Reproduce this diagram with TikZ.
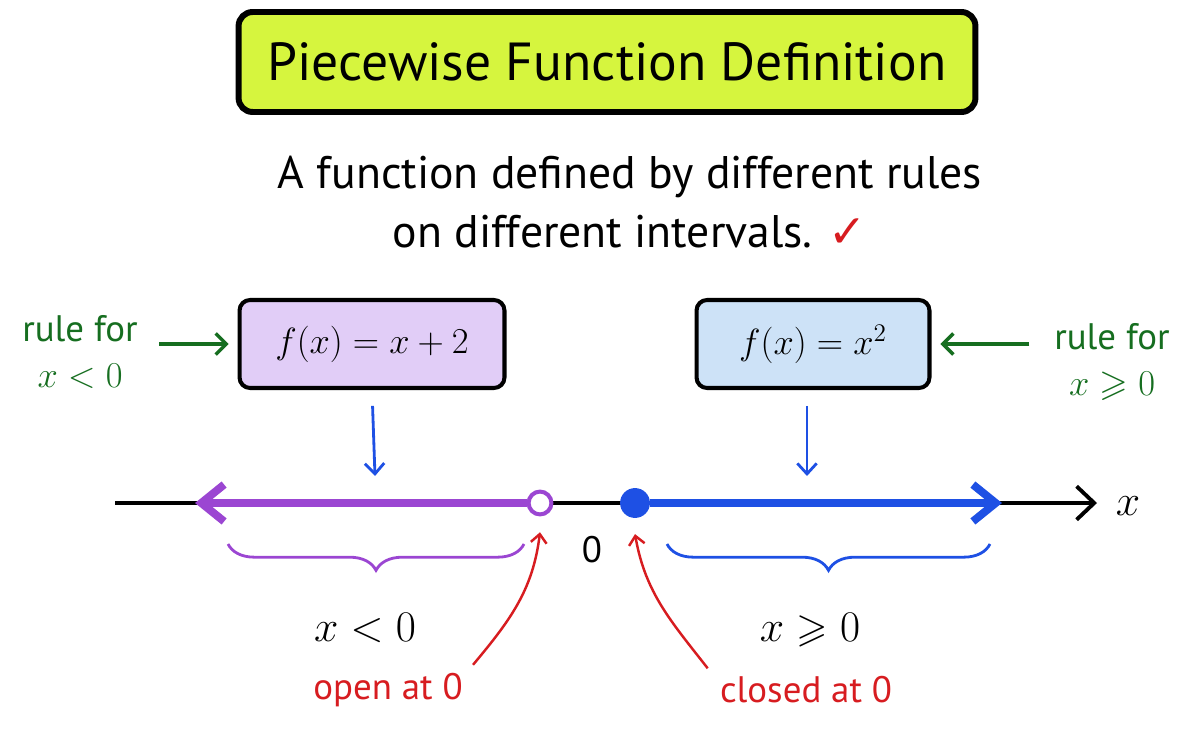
\documentclass[tikz,border=0pt]{standalone}
\usepackage{fontspec}
\usepackage{amsmath,amssymb}
\setmainfont{PT Sans}
\newfontfamily\checkfont{DejaVu Sans}
\usetikzlibrary{positioning,arrows.meta,decorations.pathreplacing}
\definecolor{titlelime}{RGB}{214,245,62}
\definecolor{rulepurple}{RGB}{225,205,247}
\definecolor{ruleblue}{RGB}{205,226,247}
\definecolor{linepurple}{RGB}{155,70,210}
\definecolor{lineblue}{RGB}{30,80,228}
\definecolor{notegreen}{RGB}{22,110,32}
\definecolor{notered}{RGB}{215,28,32}

\begin{document}
\begin{tikzpicture}[x=0.02cm, y=-0.02cm,
		every node/.style={inner sep=0pt},
		titlebox/.style={draw, fill=titlelime, line width=3.4pt, rounded corners=8pt, minimum width=14.74cm, minimum height=2cm, font=\fontsize{30.5}{36}\selectfont},
		rulebox/.style={draw, line width=2.3pt, rounded corners=6pt, minimum height=1.76cm, font=\fontsize{22}{26}\selectfont},
		note/.style={text=notegreen, align=center, font=\fontsize{21}{26}\selectfont},
		redlabel/.style={text=notered, font=\fontsize{21}{25}\selectfont},
		notearrow/.style={-{Straight Barb[length=6pt,width=12pt]}, notegreen, line width=2pt},
		downarrow/.style={-{Straight Barb[length=6pt,width=11pt]}, lineblue, line width=1.6pt},
		redarrow/.style={-{Straight Barb[length=5pt,width=9pt]}, notered, line width=1.4pt},
		ray/.style={-{Straight Barb[length=13pt,width=21pt]}, line width=4.5pt},
		interval/.style={decorate, decoration={brace, mirror, amplitude=15pt}, line width=1.6pt}
		]
		\useasboundingbox (0,0) rectangle (1200,743);
		\node[titlebox] (title) at (607,62) {Piecewise Function Definition};
		\node[font=\fontsize{26}{31}\selectfont] (sub1) at (630,177) {A function defined by different rules};
		\node[font=\fontsize{26}{31}\selectfont] (sub2) at (630,232) {on different intervals. {\color{notered}\checkfont ✓}};
		\node[rulebox, fill=rulepurple, minimum width=5.3cm] (lrule) at (372,344) {$f(x) = x+2$};
		\node[rulebox, fill=ruleblue, minimum width=4.66cm] (rrule) at (813,344) {$f(x) = x^2$};
		\node[note] (lnote) at (80,352) {rule for\\$x<0$};
		\node[note] (rnote) at (1112,362) {rule for\\$x\geqslant 0$};
		\draw[notearrow, shorten <=12pt, shorten >=5pt] (lnote.east |- lrule.west) -- (lrule.west);
		\draw[notearrow, shorten <=14pt, shorten >=5pt] (rnote.west |- rrule.east) -- (rrule.east);
		\coordinate (xstart) at (115,503);
		\coordinate (xend) at (1097,503);
		\coordinate (lend) at (195,503);
		\coordinate (rend) at (1002,503);
		\node[font=\fontsize{24}{28}\selectfont] (xlabel) at (1128,506) {$x$};
		\draw[-{Straight Barb[length=10pt,width=19pt]}, line width=2.2pt] (xstart) -- (xend);
		\node[circle, draw=linepurple, fill=white, line width=2.3pt, minimum size=13pt] (open) at (540,503) {};
		\node[circle, fill=lineblue, minimum size=17pt] (closed) at (635,503) {};
		\draw[ray, linepurple] (open.west) -- (lend);
		\draw[ray, lineblue] (closed.east) -- (rend);
		\node[font=\fontsize{21}{25}\selectfont] (zero) at (592,550) {0};
		\coordinate (ltip) at (375,476);
		\coordinate (rtip) at (807,476);
		\draw[downarrow, shorten <=9pt] (lrule.south) -- (ltip);
		\draw[downarrow, shorten <=9pt] (rrule.south -| rtip) -- (rtip);
		\coordinate (lb1) at (228,544);
		\coordinate (lb2) at (524,544);
		\coordinate (rb1) at (667,544);
		\coordinate (rb2) at (990,544);
		\draw[interval, linepurple] (lb1) -- (lb2);
		\draw[interval, lineblue] (rb1) -- (rb2);
		\node[font=\fontsize{23}{27}\selectfont] (lneg) at (365,628) {$x<0$};
		\node[font=\fontsize{23}{27}\selectfont] (rpos) at (810,630) {$x\geqslant 0$};
		\node[redlabel] (openlbl) at (388,690) {open at 0};
		\node[redlabel] (closedlbl) at (806,690) {closed at 0};
		\draw[redarrow] ([shift={(10,-8)}]openlbl.north east) to[out=50, in=-97] ([yshift=-9pt]open.south);
		\draw[redarrow] ([shift={(-12,-8)}]closedlbl.north west) to[out=128, in=-80] ([yshift=-9pt]closed.south);
	\end{tikzpicture}
\end{document}
